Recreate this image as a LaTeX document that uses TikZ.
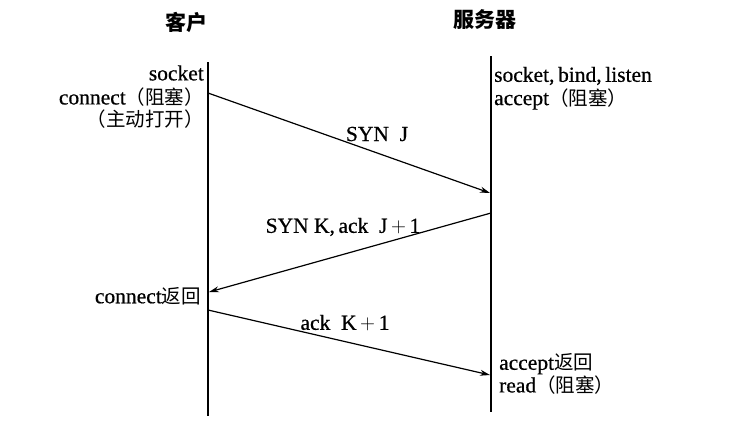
\documentclass[tikz,border=0pt]{standalone}
\usepackage{fontspec}
\setmainfont[FakeBold=0.6]{Liberation Serif}
\newfontfamily\cjk{Noto Sans CJK SC}
\usetikzlibrary{arrows.meta}
\newcommand{\zh}[1]{{\fontsize{19.5}{21}\selectfont\cjk #1}}
\tikzset{
  life/.style={line width=1.2pt, black},
  msg/.style={line width=1.2pt, black, -{Stealth[length=10pt,width=6pt]}},
  lbl/.style={font=\fontsize{21.5}{23}\selectfont, inner sep=0pt, text=black},
  ttl/.style={font=\fontsize{21}{23}\selectfont\cjk\bfseries, inner sep=0pt},
}
\begin{document}
\begin{tikzpicture}[x=1pt,y=-1pt]
\useasboundingbox (0,0) rectangle (734,432);
\fill[white] (0,0) rectangle (734,432);
% titles
\node[ttl] (tc) at (186,22) {客户};
\node[ttl] (ts) at (485,20) {服务器};
% lifelines
\coordinate (ct) at (208,62);
\coordinate (cb) at (208,416);
\coordinate (st) at (491,56);
\coordinate (sb) at (491,412);
\draw[life] (ct) -- (cb);
\draw[life] (st) -- (sb);
% message endpoints
\coordinate (m1a) at (208,93);
\coordinate (m1b) at (490,193);
\coordinate (m2a) at (491,213);
\coordinate (m2b) at (209,292);
\coordinate (m3a) at (208,310);
\coordinate (m3b) at (490,375);
\draw[msg] (m1a) -- (m1b);
\draw[msg] (m2a) -- (m2b);
\draw[msg] (m3a) -- (m3b);
% client labels
\node[lbl, anchor=east] (l1) at (204,73) {socket};
\node[lbl, anchor=east] (l2) at (204,97) {connect\zh{（阻塞）}};
\node[lbl, anchor=east] (l3) at (204,119) {\zh{（主动打开）}};
\node[lbl, anchor=east] (l4) at (201,296) {connect\zh{返回}};
% server labels
\node[lbl, anchor=west] (r1) at (494,76) {socket,\,bind,\,listen};
\node[lbl, anchor=west] (r2) at (494,99) {accept\zh{（阻塞）}};
\node[lbl, anchor=west] (r3) at (499,364) {accept\zh{返回}};
\node[lbl, anchor=west] (r4) at (499,385) {read\zh{（阻塞）}};
% message labels
\node[lbl] (s1) at (377,134) {SYN\ \ J};
\node[lbl] (s2) at (343,227) {SYN K,\,ack\ \ J\,$+$\,1};
\node[lbl] (s3) at (345,323) {ack\ \ K\,$+$\,1};
\end{tikzpicture}
\end{document}
